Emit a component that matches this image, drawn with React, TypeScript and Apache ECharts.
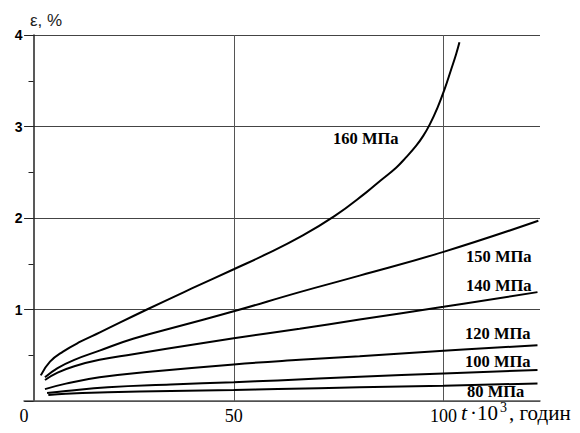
import React, { useEffect, useRef } from "react";
import * as echarts from "echarts";

// Curves: time (x10^3 h) and strain (%)
const t160 = [4.0, 6.2, 9.3, 13.3, 18.1, 29.3, 40, 50, 58, 65.7, 74, 81.6, 85, 88.7, 91, 93.5, 95.2, 96.7, 98.6, 100.2, 101.8, 103, 103.8];
const e160 = [0.28, 0.43, 0.54, 0.645, 0.75, 1.0, 1.23, 1.44, 1.61, 1.79, 2.02, 2.28, 2.41, 2.55, 2.66, 2.79, 2.90, 3.02, 3.21, 3.40, 3.62, 3.79, 3.92];

const t150 = [5, 8, 12, 18, 26, 38, 50, 65.7, 80, 100, 122.6];
const e150 = [0.26, 0.36, 0.45, 0.55, 0.68, 0.83, 0.98, 1.19, 1.37, 1.63, 1.97];

const t140 = [5, 8, 12, 18, 26, 34, 50, 65.7, 80, 100, 122.4];
const e140 = [0.23, 0.31, 0.38, 0.45, 0.51, 0.57, 0.685, 0.79, 0.89, 1.03, 1.19];

const t120 = [5, 10, 18, 30, 50, 65.7, 80, 100, 122.4];
const e120 = [0.13, 0.19, 0.26, 0.32, 0.40, 0.45, 0.49, 0.55, 0.61];

const t100 = [5.5, 10, 20, 35, 50, 60.5, 80, 100, 122.4];
const e100 = [0.087, 0.11, 0.15, 0.18, 0.205, 0.225, 0.265, 0.30, 0.34];

const t80 = [5.8, 10, 20, 35, 50, 60.5, 80, 100, 122.4];
const e80 = [0.066, 0.08, 0.095, 0.11, 0.12, 0.13, 0.15, 0.168, 0.192];

const curveNames = ["160 МПа", "150 МПа", "140 МПа", "120 МПа", "100 МПа", "80 МПа"];
const xTickLabels = ["0", "50", "100"];
const yTickLabels = ["1", "2", "3", "4"];

const curves = [
  [t160, e160],
  [t150, e150],
  [t140, e140],
  [t120, e120],
  [t100, e100],
  [t80, e80],
];

// label layout (pixels)
const labelPos = [
  [333, 138],
  [466, 256],
  [466, 285],
  [465, 333],
  [465, 361],
  [467, 391],
];

export default function App() {
  const ref = useRef<HTMLDivElement>(null);
  useEffect(() => {
    if (!ref.current) return;
    const chart = echarts.init(ref.current, null, { renderer: "svg" });
    const serif = '"Liberation Serif", "Times New Roman", serif';
    const sans = '"Liberation Sans", Arial, sans-serif';
    const series = curves.map(([xs, ys], i) => ({
      type: "line",
      name: curveNames[i],
      data: xs.map((x, j) => [x, ys[j]]),
      smooth: 0.45,
      showSymbol: false,
      lineStyle: { color: "#000", width: 2 },
      z: 5,
    }));
    const graphics: any[] = curveNames.map((n, i) => ({
      type: "text",
      x: labelPos[i][0],
      y: labelPos[i][1],
      style: {
        text: n,
        fill: "#000",
        font: `bold 16.5px ${serif}`,
        align: "left",
        verticalAlign: "middle",
      },
      z: 10,
    }));
    graphics.push(
      {
        type: "text",
        x: 30,
        y: 12,
        style: { text: "ε, %", fill: "#222", font: `17px ${sans}`, align: "left", verticalAlign: "top" },
      },
      {
        type: "text",
        x: 461,
        y: 423,
        style: { text: "t", fill: "#000", font: `italic 22px ${serif}`, align: "left", verticalAlign: "bottom" },
      },
      {
        type: "text",
        x: 470,
        y: 423,
        style: { text: "·10", fill: "#000", font: `21px ${serif}`, align: "left", verticalAlign: "bottom" },
      },
      {
        type: "text",
        x: 500,
        y: 400,
        style: { text: "3", fill: "#000", font: `14px ${serif}`, align: "left", verticalAlign: "top" },
      },
      {
        type: "text",
        x: 509,
        y: 423,
        style: { text: ", годин", fill: "#000", font: `21px ${serif}`, align: "left", verticalAlign: "bottom" },
      }
    );
    chart.setOption({
      animation: false,
      grid: { left: 24, right: 40, top: 35, bottom: 32, containLabel: false },
      xAxis: {
        type: "value",
        min: 0,
        max: 123,
        interval: 50,
        axisLine: { show: true, lineStyle: { color: "#555", width: 1.5 } },
        axisTick: { show: false },
        axisLabel: {
          color: "#000",
          fontFamily: serif,
          fontSize: 18,
          margin: 6,
          showMaxLabel: false,
          formatter: (v: number) => {
            const idx = [0, 50, 100].indexOf(v);
            return idx >= 0 ? xTickLabels[idx] : "";
          },
        },
        splitLine: { show: true, showMinLine: false, showMaxLine: false, lineStyle: { color: "#555", width: 1, type: "solid" } },
      },
      yAxis: {
        type: "value",
        min: 0,
        max: 4,
        interval: 1,
        offset: -9.5,
        axisLine: { show: true, lineStyle: { color: "#222", width: 1.5 } },
        axisTick: { show: true, length: 9, lineStyle: { color: "#222", width: 1 } },
        minorTick: { show: true, splitNumber: 2, length: 5, lineStyle: { color: "#222", width: 1 } },
        axisLabel: {
          color: "#000",
          fontFamily: sans,
          fontWeight: "bold",
          fontSize: 14,
          margin: 11,
          showMinLabel: false,
          formatter: (v: number) => (v >= 1 && v <= 4 ? yTickLabels[v - 1] : ""),
        },
        splitLine: { show: true, lineStyle: { color: "#444", width: 1 } },
      },
      series,
      graphic: graphics,
    });
    return () => chart.dispose();
  }, []);
  return (
    <div
      ref={ref}
      style={{ position: "fixed", left: 0, top: 0, width: 580, height: 433, background: "#fff" }}
    />
  );
}
